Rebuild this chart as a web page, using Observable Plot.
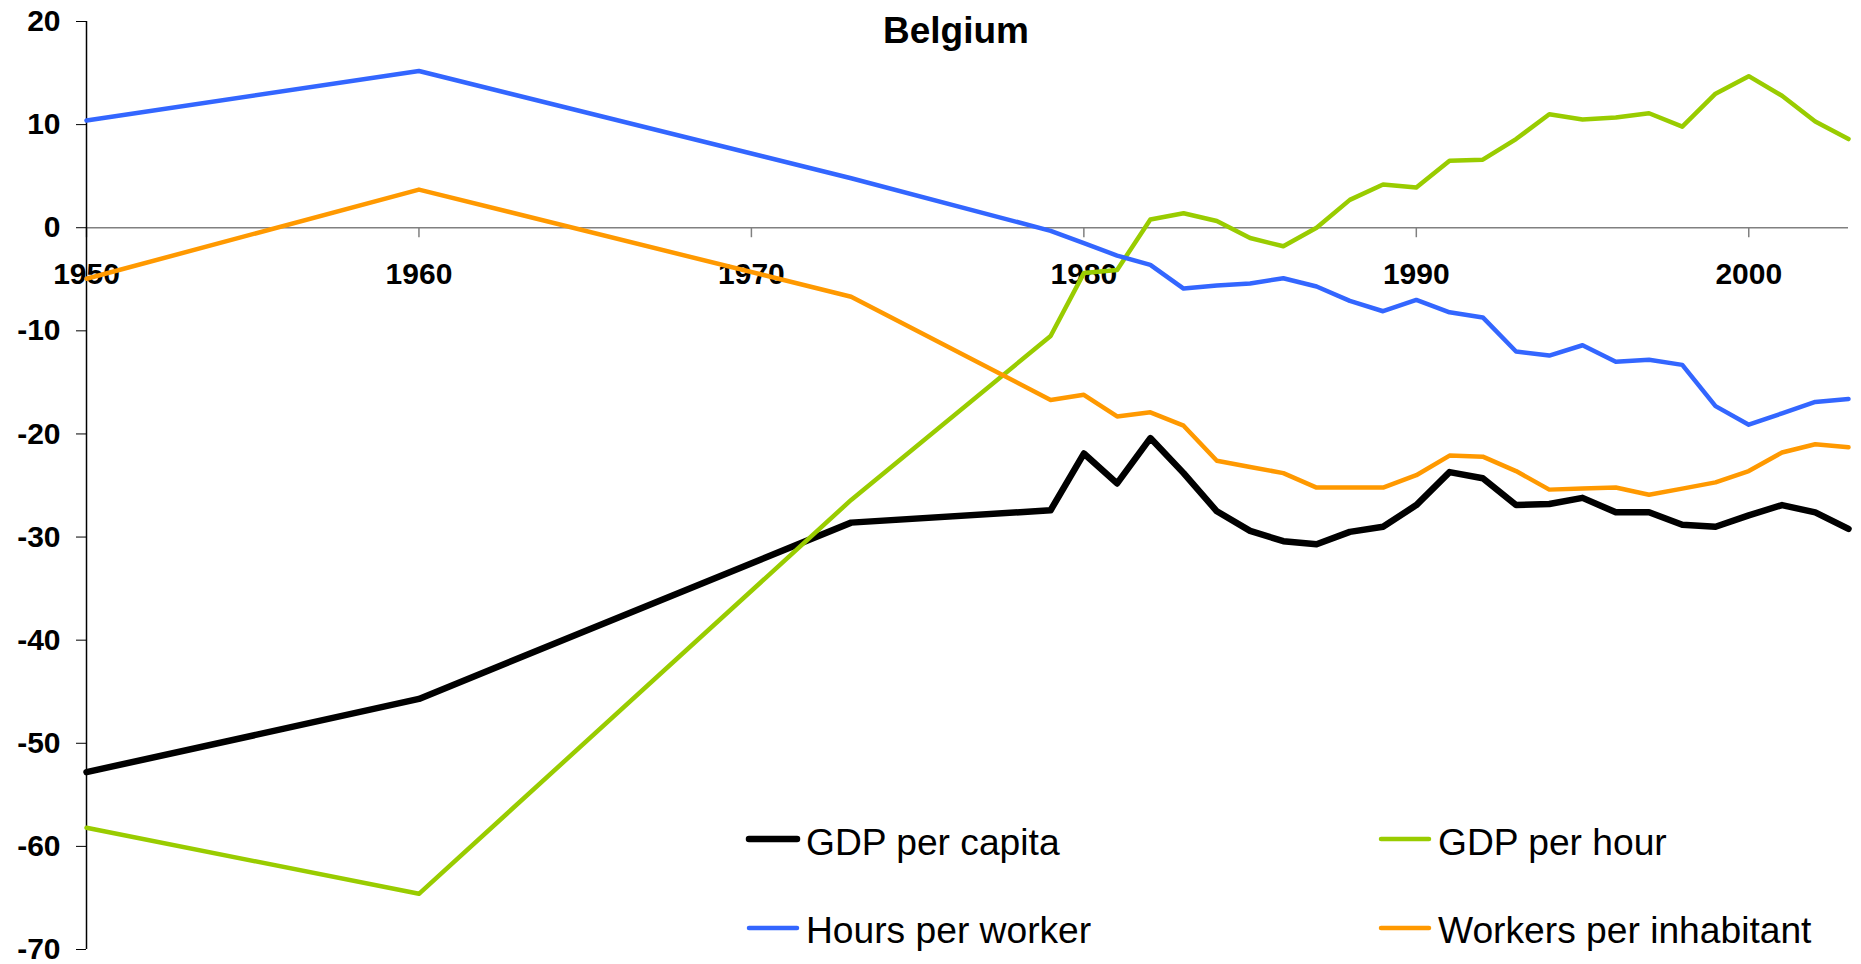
<!DOCTYPE html>
<html>
<head>
<meta charset="utf-8">
<script src="https://cdn.jsdelivr.net/npm/d3@7"></script>
<script src="https://cdn.jsdelivr.net/npm/@observablehq/plot@0.6"></script>
<style>
  html, body { margin: 0; padding: 0; background: #fff; }
  #wrap { position: relative; width: 1861px; height: 964px; font-family: "Liberation Sans", Arial, sans-serif; }
  #overlay { position: absolute; left: 0; top: 0; pointer-events: none; }
</style>
</head>
<body>
<div id="wrap"></div>
<script>
// ---- Data ----
const years = [1950, 1960, 1973, 1979, 1980, 1981, 1982, 1983, 1984, 1985, 1986, 1987, 1988, 1989, 1990,
               1991, 1992, 1993, 1994, 1995, 1996, 1997, 1998, 1999, 2000, 2001, 2002, 2003];
const gdpPerCapita = [-52.8, -45.7, -28.6, -27.4, -21.9, -24.8, -20.4, -23.8, -27.5, -29.4, -30.4, -30.7, -29.5, -29.0, -26.9,
                      -23.7, -24.3, -26.9, -26.8, -26.2, -27.6, -27.6, -28.8, -29.0, -27.9, -26.9, -27.6, -29.2];
const gdpPerHour = [-58.2, -64.6, -26.4, -10.5, -4.4, -4.1, 0.8, 1.4, 0.65, -1.0, -1.8, 0.0, 2.7, 4.2, 3.9,
                    6.5, 6.6, 8.6, 11.0, 10.5, 10.7, 11.1, 9.8, 13.0, 14.7, 12.8, 10.3, 8.6];
const hoursPerWorker = [10.4, 15.2, 4.8, -0.3, -1.5, -2.7, -3.6, -5.9, -5.6, -5.4, -4.9, -5.7, -7.1, -8.1, -7.0,
                        -8.2, -8.7, -12.0, -12.4, -11.4, -13.0, -12.8, -13.3, -17.3, -19.1, -18.0, -16.9, -16.6];
const workersPerInhabitant = [-4.95, 3.7, -6.7, -16.7, -16.2, -18.3, -17.9, -19.2, -22.6, -23.2, -23.8, -25.2, -25.2, -25.2, -24.0,
                              -22.1, -22.2, -23.6, -25.4, -25.3, -25.2, -25.9, -25.3, -24.7, -23.6, -21.8, -21.0, -21.3];

const seriesNames = ["GDP per capita", "GDP per hour", "Hours per worker", "Workers per inhabitant"];
const seriesColors = ["#000000", "#99CC00", "#3366FF", "#FF9900"];
const seriesWidths = [6.5, 4.5, 4.5, 4.5];
const seriesValues = [gdpPerCapita, gdpPerHour, hoursPerWorker, workersPerInhabitant];

const xTicks = [1950, 1960, 1970, 1980, 1990, 2000];
const yTicks = [20, 10, 0, -10, -20, -30, -40, -50, -60, -70];
const title = "Belgium";

// Long-format table per series
const tables = seriesValues.map((vals, i) =>
  years.map((yr, j) => ({ year: yr, value: vals[j], series: seriesNames[i] }))
);

const W = 1861, H = 964;
const chart = Plot.plot({
  width: W,
  height: H,
  marginLeft: 86,
  marginRight: 13,
  marginTop: 21,
  marginBottom: 15,
  style: { fontFamily: "'Liberation Sans', Arial, sans-serif", background: "white", color: "black" },
  x: { domain: [1950, 2003], axis: null },
  y: { domain: [-70, 20], axis: null },
  marks: [
    Plot.ruleY([0], { stroke: "#808080", strokeWidth: 1.5 }),
    Plot.ruleX(xTicks, { x: d => d, y1: 0, y2: 0, insetBottom: -10, stroke: "#808080", strokeWidth: 1.5 }),
    Plot.text(xTicks, { x: d => d, y: 0, text: d => String(d), dy: 47, fontSize: 30, fontWeight: "bold", fill: "black" }),
    Plot.axisY({ ticks: yTicks, tickSize: 10, tickPadding: 16, fontSize: 30, fontWeight: "bold",
                 tickFormat: d => String(d), label: null, anchor: "left", stroke: "black", fill: "black" }),
    Plot.ruleX([1950], { stroke: "black", strokeWidth: 1.5 }),
    ...tables.map((t, i) => Plot.line(t, { x: "year", y: "value", stroke: seriesColors[i], strokeWidth: seriesWidths[i],
                                           strokeLinejoin: "round" }))
  ]
});
const wrap = document.getElementById("wrap");
wrap.appendChild(chart);

// ---- Title and legend overlay (inside the plot area, as in the reference) ----
const ns = "http://www.w3.org/2000/svg";
const ov = document.createElementNS(ns, "svg");
ov.setAttribute("id", "overlay");
ov.setAttribute("width", W);
ov.setAttribute("height", H);
function addText(x, y, str, size, weight, anchor) {
  const t = document.createElementNS(ns, "text");
  t.setAttribute("x", x); t.setAttribute("y", y);
  t.setAttribute("font-size", size); t.setAttribute("font-weight", weight);
  t.setAttribute("font-family", "'Liberation Sans', Arial, sans-serif");
  t.setAttribute("text-anchor", anchor); t.setAttribute("fill", "black");
  t.textContent = str;
  ov.appendChild(t);
}
function addLine(x1, x2, y, color, w) {
  const l = document.createElementNS(ns, "line");
  l.setAttribute("x1", x1); l.setAttribute("x2", x2);
  l.setAttribute("y1", y); l.setAttribute("y2", y);
  l.setAttribute("stroke", color); l.setAttribute("stroke-width", w);
  l.setAttribute("stroke-linecap", "round");
  ov.appendChild(l);
}
addText(956, 43, title, 37, "bold", "middle");
const legendPos = [
  { lx: 749, ty: 855, ly: 839 },
  { lx: 1381, ty: 855, ly: 839 },
  { lx: 749, ty: 943, ly: 928 },
  { lx: 1381, ty: 943, ly: 928 }
];
seriesNames.forEach((name, i) => {
  const p = legendPos[i];
  addLine(p.lx, p.lx + 48, p.ly, seriesColors[i], i === 0 ? 6.5 : 4.5);
  addText(p.lx + 57, p.ty, name, 37.2, "normal", "start");
});
wrap.appendChild(ov);
</script>
</body>
</html>
